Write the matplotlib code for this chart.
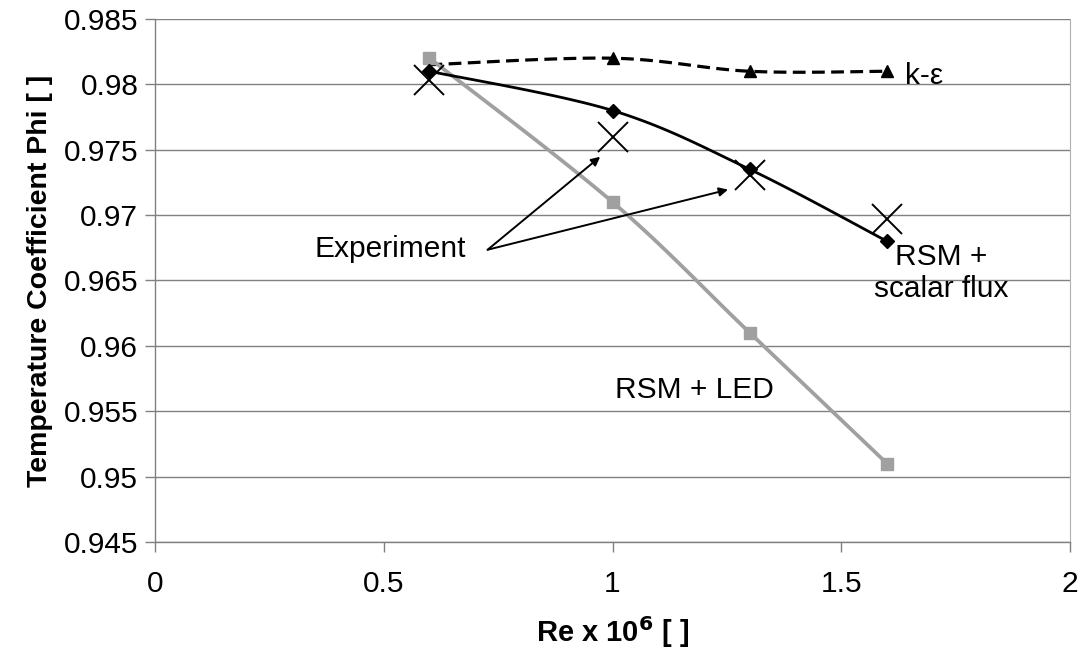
import numpy as np
import matplotlib
matplotlib.use("Agg")
import matplotlib.pyplot as plt

plt.rcParams["font.family"] = ["Liberation Sans", "DejaVu Sans"]

re_values = [0.6, 1.0, 1.3, 1.6]
phi_k_eps = [0.9815, 0.982, 0.981, 0.981]
phi_rsm_flux = [0.981, 0.978, 0.9735, 0.968]
phi_rsm_led = [0.982, 0.971, 0.961, 0.951]
phi_experiment = [0.9803, 0.976, 0.9731, 0.9697]

y_ticks = [0.945, 0.95, 0.955, 0.96, 0.965, 0.97, 0.975, 0.98, 0.985]
y_tick_labels = ["0.945", "0.95", "0.955", "0.96", "0.965", "0.97", "0.975", "0.98", "0.985"]
x_ticks = [0, 0.5, 1, 1.5, 2]
x_tick_labels = ["0", "0.5", "1", "1.5", "2"]

AXIS_GREY = "#808080"


def smooth(xs, ys, n=40):
    # Catmull-Rom curve through the points, like Excel's smoothed line
    x = np.asarray(xs, float)
    y = np.asarray(ys, float)
    px = np.concatenate([[x[0]], x, [x[-1]]])
    py = np.concatenate([[y[0]], y, [y[-1]]])
    out_x, out_y = [], []
    t = np.linspace(0, 1, n)
    for i in range(1, len(px) - 2):
        for arr, out in ((px, out_x), (py, out_y)):
            p0, p1, p2, p3 = arr[i - 1], arr[i], arr[i + 1], arr[i + 2]
            out.extend(0.5 * (2 * p1 + (-p0 + p2) * t
                              + (2 * p0 - 5 * p1 + 4 * p2 - p3) * t ** 2
                              + (-p0 + 3 * p1 - 3 * p2 + p3) * t ** 3))
    return out_x, out_y


fig = plt.figure(figsize=(10.86, 6.5), dpi=100)
ax = fig.add_axes([0.1427, 0.1662, 0.8426, 0.8046])

ax.set_xlim(0, 2)
ax.set_ylim(0.945, 0.985)
ax.set_yticks(y_ticks)
ax.set_yticklabels(y_tick_labels)
ax.set_xticks(x_ticks)
ax.set_xticklabels(x_tick_labels)
ax.grid(axis="y", color=AXIS_GREY, linewidth=1.0)
ax.set_axisbelow(True)
ax.spines["top"].set_visible(False)
ax.spines["right"].set_color("#b0b0b0")
for side in ("left", "bottom"):
    ax.spines[side].set_color(AXIS_GREY)
    ax.spines[side].set_linewidth(1.0)
ax.tick_params(axis="both", labelsize=21.5, color=AXIS_GREY, length=7, width=1)
ax.tick_params(axis="y", pad=5)
ax.tick_params(axis="x", pad=13)

sx, sy = smooth(re_values, phi_k_eps)
ax.plot(sx, sy, color="black", linewidth=2.3, linestyle=(0, (4, 2)))
ax.plot(re_values[1:], phi_k_eps[1:], linestyle="none", marker="^", markersize=8, color="black")

sx, sy = smooth(re_values, phi_rsm_led)
ax.plot(sx, sy, color="#a0a0a0", linewidth=2.7)
ax.plot(re_values, phi_rsm_led, linestyle="none", marker="s", markersize=8, color="#a0a0a0")

sx, sy = smooth(re_values, phi_rsm_flux)
ax.plot(sx, sy, color="black", linewidth=2.0)
ax.plot(re_values, phi_rsm_flux, linestyle="none", marker="D", markersize=7, color="black")

ax.plot(re_values, phi_experiment, linestyle="none", marker="x", markersize=22,
        markeredgewidth=1.4, color="black")

ax.text(1.639, 0.98, "k-ε", fontsize=21.5, va="baseline", ha="left")
ax.text(1.718, 0.96557, "RSM +\nscalar flux", fontsize=21.5, va="center", ha="center",
        multialignment="center", linespacing=1.15)
ax.text(1.178, 0.95599, "RSM + LED", fontsize=21.5, va="baseline", ha="center")
ax.text(0.5148, 0.96681, "Experiment", fontsize=21.5, va="baseline", ha="center")

for end in [(0.973, 0.97446), (1.2525, 0.97195)]:
    ax.annotate("", xy=end, xytext=(0.727, 0.96735),
                arrowprops=dict(arrowstyle="-|>", color="black", lw=1.4,
                                mutation_scale=13, shrinkA=0, shrinkB=0))

ax.set_ylabel("Temperature Coefficient Phi [ ]", fontsize=20.5, fontweight="bold", labelpad=8)
ax.set_xlabel("Re x 10$^{\\mathbf{6}}$ [ ]", fontsize=21, fontweight="bold", labelpad=12)

fig.savefig("out.png", dpi=100)
